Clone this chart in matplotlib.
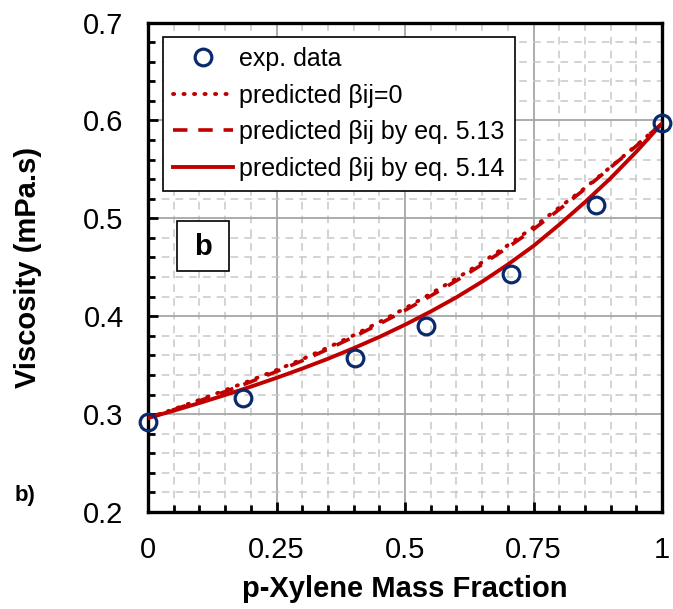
import numpy as np
import matplotlib
matplotlib.use("Agg")
import matplotlib.pyplot as plt
from matplotlib.patches import Rectangle
from matplotlib.ticker import MultipleLocator, FixedFormatter, FixedLocator

plt.rcParams['font.family'] = ['Liberation Sans', 'DejaVu Sans']

# measured viscosities
x_exp = [0.0, 0.185, 0.402, 0.540, 0.706, 0.871, 1.0]
mu_exp = [0.292, 0.316, 0.357, 0.390, 0.443, 0.514, 0.597]

# model curves on a 0.05 grid of mass fraction
x_mod = [0.00, 0.05, 0.10, 0.15, 0.20, 0.25, 0.30, 0.35, 0.40, 0.45, 0.50,
         0.55, 0.60, 0.65, 0.70, 0.75, 0.80, 0.85, 0.90, 0.95, 1.00]
mu_beta0 = [0.296, 0.305, 0.3145, 0.3245, 0.3345, 0.345, 0.356, 0.368, 0.3805, 0.394, 0.408,
            0.423, 0.4385, 0.455, 0.4725, 0.491, 0.511, 0.531, 0.5525, 0.5745, 0.597]
mu_513 = [0.296, 0.3045, 0.3135, 0.323, 0.333, 0.3435, 0.3545, 0.3663, 0.3788, 0.392, 0.406,
          0.4208, 0.4363, 0.4528, 0.4703, 0.4888, 0.509, 0.530, 0.552, 0.574, 0.597]
mu_514 = [0.296, 0.3035, 0.3113, 0.3195, 0.328, 0.337, 0.3465, 0.3565, 0.3673, 0.3788, 0.3913,
          0.4048, 0.4193, 0.4353, 0.4528, 0.4718, 0.4935, 0.5165, 0.541, 0.568, 0.597]

red = '#c00000'
navy = '#0a2a6e'

fig = plt.figure(figsize=(6.73, 6.09), dpi=100)
ax = fig.add_axes([0.2199, 0.1593, 0.7638, 0.8037])

ax.plot(x_exp, mu_exp, 'o', ms=12, mfc='none', mec=navy, mew=2.3,
        label='exp. data', zorder=5, clip_on=False)
ax.plot(x_mod, mu_beta0, color=red, lw=2.8, linestyle=(0, (0.3, 2.4)),
        dash_capstyle='round', label='predicted βij=0', zorder=4)
ax.plot(x_mod, mu_513, color=red, lw=2.6, linestyle=(0, (4, 3)),
        label='predicted βij by eq. 5.13', zorder=4)
ax.plot(x_mod, mu_514, color=red, lw=2.8, label='predicted βij by eq. 5.14', zorder=4)

ax.set_xlim(0, 1)
ax.set_ylim(0.2, 0.7)
ax.xaxis.set_major_locator(FixedLocator([0, 0.25, 0.5, 0.75, 1.0]))
ax.xaxis.set_major_formatter(FixedFormatter(['0', '0.25', '0.5', '0.75', '1']))
ax.xaxis.set_minor_locator(MultipleLocator(0.05))
ax.yaxis.set_major_locator(MultipleLocator(0.1))
ax.yaxis.set_minor_locator(MultipleLocator(0.02))

ax.grid(which='major', color='#a6a6a6', lw=1.3, linestyle='-')
ax.grid(which='minor', color='#c8c8c8', lw=1.1, linestyle=(0, (5, 4)))
ax.set_axisbelow(True)

ax.tick_params(which='both', direction='in', color='black', width=2.0)
ax.tick_params(which='major', length=7, labelsize=21, pad=17.5)
ax.tick_params(which='minor', length=5)
for s in ax.spines.values():
    s.set_linewidth(2.4)
    s.set_color('black')

ax.set_xlabel('p-Xylene Mass Fraction', fontsize=21, fontweight='bold', labelpad=8)
ax.set_ylabel('Viscosity (mPa.s)', fontsize=21, fontweight='bold', labelpad=30)

leg = ax.legend(loc='upper left', bbox_to_anchor=(0.029, 0.970), borderaxespad=0,
                fontsize=18, frameon=True, fancybox=False, edgecolor='black',
                framealpha=1, handlelength=2.4, handletextpad=0.25,
                labelspacing=0.5, borderpad=0.4)
leg.get_frame().set_linewidth(1.2)

# panel tag box
ax.add_patch(Rectangle((0.0564, 0.4923), 0.1012, 0.1022, transform=ax.transAxes,
                       fc='white', ec='black', lw=1.2, zorder=6))
ax.text(0.107, 0.541, 'b', transform=ax.transAxes, fontsize=21, fontweight='bold',
        ha='center', va='center', zorder=7)

fig.text(25.5 / 673, 1 - 495 / 609, 'b)', fontsize=16, fontweight='bold',
         ha='center', va='center')

fig.savefig('out.png', dpi=100)
